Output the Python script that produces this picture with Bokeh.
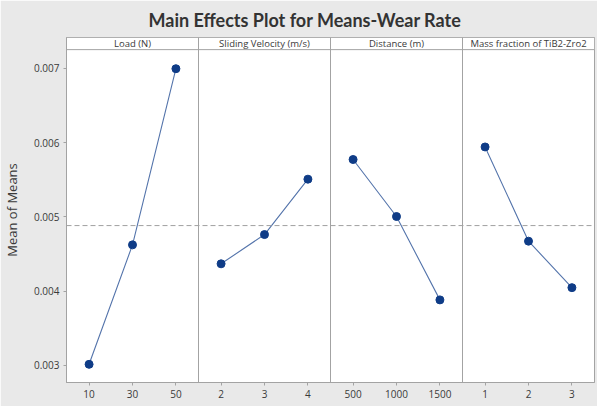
import numpy as np
from bokeh.plotting import figure
from bokeh.models import Range1d, FixedTicker, Span, NumeralTickFormatter
from bokeh.core.properties import value
from bokeh.embed import file_html
from bokeh.resources import INLINE

# ---- data ----
title_text = "Main Effects Plot for Means-Wear Rate"
y_label = "Mean of Means"
factors = ["Load (N)", "Sliding Velocity (m/s)", "Distance (m)", "Mass fraction of TiB2-Zro2"]
load_levels = ["10", "30", "50"]
velocity_levels = ["2", "3", "4"]
distance_levels = ["500", "1000", "1500"]
mass_levels = ["1", "2", "3"]
load_means = [0.003013, 0.004622, 0.006995]
velocity_means = [0.004367, 0.004761, 0.005507]
distance_means = [0.005772, 0.005004, 0.003881]
mass_means = [0.005941, 0.004672, 0.004046]
y_ticks = [0.003, 0.004, 0.005, 0.006, 0.007]

levels = [load_levels, velocity_levels, distance_levels, mass_levels]
means = [load_means, velocity_means, distance_means, mass_means]
grand_mean = float(np.mean(np.concatenate([np.array(m) for m in means])))

# ---- layout constants (panel geometry in x units) ----
STEP = 100          # spacing between levels
PAD = 52            # padding at both ends of each panel
PANEL_W = 2 * STEP + 2 * PAD
Y_MIN, Y_DATA_MAX, Y_MAX = 0.002768, 0.007252, 0.0074155

BG = "#e9e9e9"
FRAME = "#a3a3a3"
TXT = "#3a3a3a"
FONT = "Open Sans"

p = figure(width=597, height=406, output_backend="svg", toolbar_location=None,
           x_range=Range1d(0, PANEL_W * len(factors)), y_range=Range1d(Y_MIN, Y_MAX),
           min_border_left=65, min_border_right=3, min_border_top=35, min_border_bottom=24)
p.background_fill_color = "white"
p.border_fill_color = BG
p.outline_line_color = FRAME
p.xgrid.visible = False
p.ygrid.visible = False

p.title.text = title_text
p.title.text_font = "Lato"
p.title.text_font_size = "18px"
p.title.text_font_style = "bold"
p.title.text_color = "#333333"
p.title.align = "left"
p.title.offset = 82
p.title.standoff = 13

# grand mean reference line
p.add_layout(Span(location=grand_mean, dimension="width", line_color="#a0a0a0",
                  line_dash="5 3", line_width=1))

tick_pos = []
tick_lab = {}
for i, (lv, mv) in enumerate(zip(levels, means)):
    x0 = i * PANEL_W
    xs = [x0 + PAD + j * STEP for j in range(len(lv))]
    for x, l in zip(xs, lv):
        tick_pos.append(x)
        tick_lab[x] = l
    p.line(xs, mv, line_color="#5474ab", line_width=1.1)
    p.scatter(xs, mv, size=8, fill_color="#0f3c87", line_color="#0f3c87")
    # strip header
    p.quad(left=[x0], right=[x0 + PANEL_W], bottom=[Y_DATA_MAX], top=[Y_MAX],
           fill_color="white", line_color=FRAME, line_width=1)
    p.text(x=[x0 + PANEL_W / 2], y=[(Y_DATA_MAX + Y_MAX) / 2], text=[factors[i]],
           text_font=value(FONT), text_font_size="9.5px", text_color=TXT,
           text_align="center", text_baseline="middle")
    if i > 0:
        p.add_layout(Span(location=x0, dimension="height", line_color=FRAME, line_width=1))

# x axis
p.xaxis.ticker = FixedTicker(ticks=tick_pos)
p.xaxis.major_label_overrides = tick_lab
p.xaxis.minor_tick_line_color = None
p.xaxis.major_tick_in = 0
p.xaxis.major_tick_out = 3
p.xaxis.major_tick_line_color = FRAME
p.xaxis.axis_line_color = FRAME
p.xaxis.major_label_text_font = FONT
p.xaxis.major_label_text_font_size = "10px"
p.xaxis.major_label_text_color = TXT
p.xaxis.major_label_standoff = 4

# y axis
p.yaxis.ticker = FixedTicker(ticks=y_ticks)
p.yaxis.formatter = NumeralTickFormatter(format="0.000")
p.yaxis.minor_tick_line_color = None
p.yaxis.major_tick_in = 0
p.yaxis.major_tick_out = 3
p.yaxis.major_tick_line_color = FRAME
p.yaxis.axis_line_color = FRAME
p.yaxis.major_label_text_font = FONT
p.yaxis.major_label_text_font_size = "10px"
p.yaxis.major_label_text_color = TXT
p.yaxis.major_label_standoff = 4
p.yaxis.axis_label = y_label
p.yaxis.axis_label_text_font = FONT
p.yaxis.axis_label_text_font_size = "13px"
p.yaxis.axis_label_text_font_style = "normal"
p.yaxis.axis_label_text_color = TXT
p.yaxis.axis_label_standoff = 10

open("out.html", "w").write(file_html(p, INLINE))
